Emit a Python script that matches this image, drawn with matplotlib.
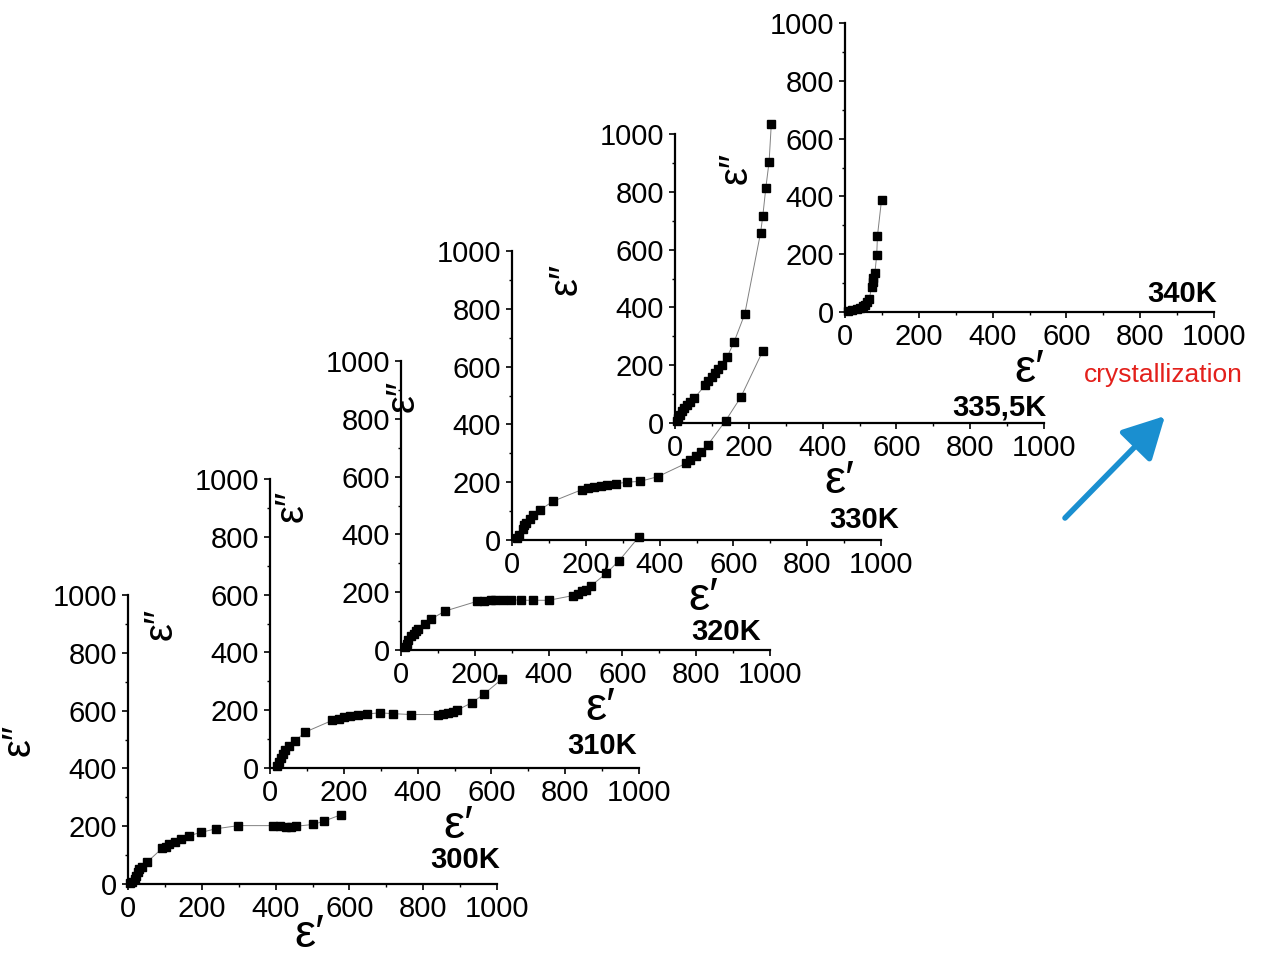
import matplotlib
matplotlib.use('Agg')
import matplotlib.pyplot as plt
from matplotlib.patches import FancyArrowPatch
from matplotlib.ticker import MultipleLocator

plt.rcParams['font.family'] = ['Liberation Sans', 'DejaVu Sans']

# ---------------- data ----------------
temperatures = ['300K', '310K', '320K', '330K', '335,5K', '340K']

e1_300 = [6, 11, 18, 22, 26, 31, 38, 52, 93, 102, 111, 127, 143, 165, 199, 238, 299,
          393, 411, 429, 443, 456, 502, 532, 576]
e2_300 = [2, 6, 18, 29, 41, 51, 59, 76, 124, 129, 138, 147, 155, 167, 179, 191, 202,
          202, 200, 198, 198, 200, 206, 218, 239]

e1_310 = [18, 24, 30, 36, 42, 51, 68, 95, 169, 186, 201, 216, 239, 264, 297, 333, 383,
          455, 468, 482, 495, 507, 547, 579, 629]
e2_310 = [8, 20, 35, 47, 61, 75, 93, 124, 165, 171, 175, 181, 185, 187, 191, 188, 185,
          185, 187, 191, 194, 200, 226, 255, 308]

e1_320 = [11, 15, 20, 27, 34, 40, 47, 64, 81, 120, 205, 225, 243, 255, 276, 299, 326,
          359, 400, 465, 479, 491, 502, 514, 556, 591, 645]
e2_320 = [9, 21, 35, 47, 56, 66, 74, 89, 107, 135, 168, 171, 172, 172, 174, 174, 172,
          172, 172, 188, 195, 204, 209, 221, 265, 309, 392]

e1_330 = [14, 18, 29, 32, 39, 48, 57, 77, 111, 189, 207, 223, 241, 258, 282, 312, 347,
          395, 471, 483, 498, 512, 530, 579, 620, 680]
e2_330 = [6, 17, 37, 52, 60, 72, 87, 105, 134, 174, 180, 184, 188, 192, 195, 200, 203,
          219, 265, 277, 291, 305, 328, 413, 494, 655]

e1_335 = [5, 9, 14, 18, 25, 32, 41, 52, 81, 90, 99, 108, 117, 128, 142, 160, 189, 232,
          238, 246, 255, 261]
e2_335 = [6, 17, 29, 40, 52, 63, 73, 85, 130, 144, 158, 173, 187, 202, 230, 280, 377,
          659, 717, 812, 904, 1035]

e1_340 = [9, 18, 32, 41, 50, 54, 60, 66, 72, 75, 77, 81, 86, 88, 99]
e2_340 = [5, 8, 10, 14, 20, 25, 33, 45, 87, 103, 118, 135, 198, 264, 388]

series_x = [e1_300, e1_310, e1_320, e1_330, e1_335, e1_340]
series_y = [e2_300, e2_310, e2_320, e2_330, e2_335, e2_340]

tick_values = [0, 200, 400, 600, 800, 1000]

# ---------------- layout (pixels) ----------------
FW, FH = 1284, 956
AW, AH = 369, 289
panel_left = [128, 270, 401, 512, 675, 845]
panel_base = [884, 768, 650, 540, 423, 312]
temp_pos = [(1.008, 0.083), (0.995, 0.076), (0.976, 0.062),
            (1.049, 0.069), (1.008, 0.055), (1.008, 0.062)]
xlabel_dx = [-3, 4, 15, 7, -20, 0]
xlabel_dy = [-29, -36, -36, -36, -36, -36]

fig = plt.figure(figsize=(FW / 100, FH / 100), dpi=100)

for i, (T, xs, ys) in enumerate(zip(temperatures, series_x, series_y)):
    ax = fig.add_axes([panel_left[i] / FW, (FH - panel_base[i]) / FH, AW / FW, AH / FH])
    ax.patch.set_visible(False)
    for s in ['top', 'right']:
        ax.spines[s].set_visible(False)
    for s in ['left', 'bottom']:
        ax.spines[s].set_linewidth(1.6)
    ax.set_xlim(0, 1000)
    ax.set_ylim(0, 1000)
    ax.set_xticks(tick_values)
    ax.set_yticks(tick_values)
    ax.xaxis.set_minor_locator(MultipleLocator(100))
    ax.yaxis.set_minor_locator(MultipleLocator(100))
    ax.tick_params(which='major', direction='out', length=4, width=1.2,
                   labelsize=21, pad=4)
    ax.tick_params(which='minor', direction='out', length=2.5, width=1.0)
    ax.tick_params(axis='x', which='major', pad=4)

    ax.plot(xs, ys, '-', color='#808080', lw=0.7, marker='s', ms=6,
            mfc='black', mec='black', clip_on=False, zorder=3)

    ax.set_xlabel('ε′', fontsize=34, family=['Liberation Sans', 'DejaVu Sans'])
    ax.xaxis.set_label_coords(0.5 + xlabel_dx[i] / AW, xlabel_dy[i] / AH)
    ax.set_ylabel('ε″', fontsize=29, family=['Liberation Sans', 'DejaVu Sans'])
    ax.yaxis.set_label_coords(-90 / AW, 0.5)

    ax.text(temp_pos[i][0], temp_pos[i][1], T, transform=ax.transAxes,
            ha='right', va='center', fontsize=21, fontweight='bold', zorder=5)

fig.text(1163 / FW, 1 - 375 / FH, 'crystallization', color='#e3201b',
         fontsize=19, ha='center', va='center')

arrow = FancyArrowPatch((1065 / FW, 1 - 518 / FH), (1165 / FW, 1 - 416 / FH),
                        transform=fig.transFigure,
                        arrowstyle='-|>,head_length=0.85,head_width=0.45',
                        mutation_scale=30, lw=4, color='#1a8fd0',
                        shrinkA=0, shrinkB=0)
fig.add_artist(arrow)

fig.savefig('out.png', dpi=100)
